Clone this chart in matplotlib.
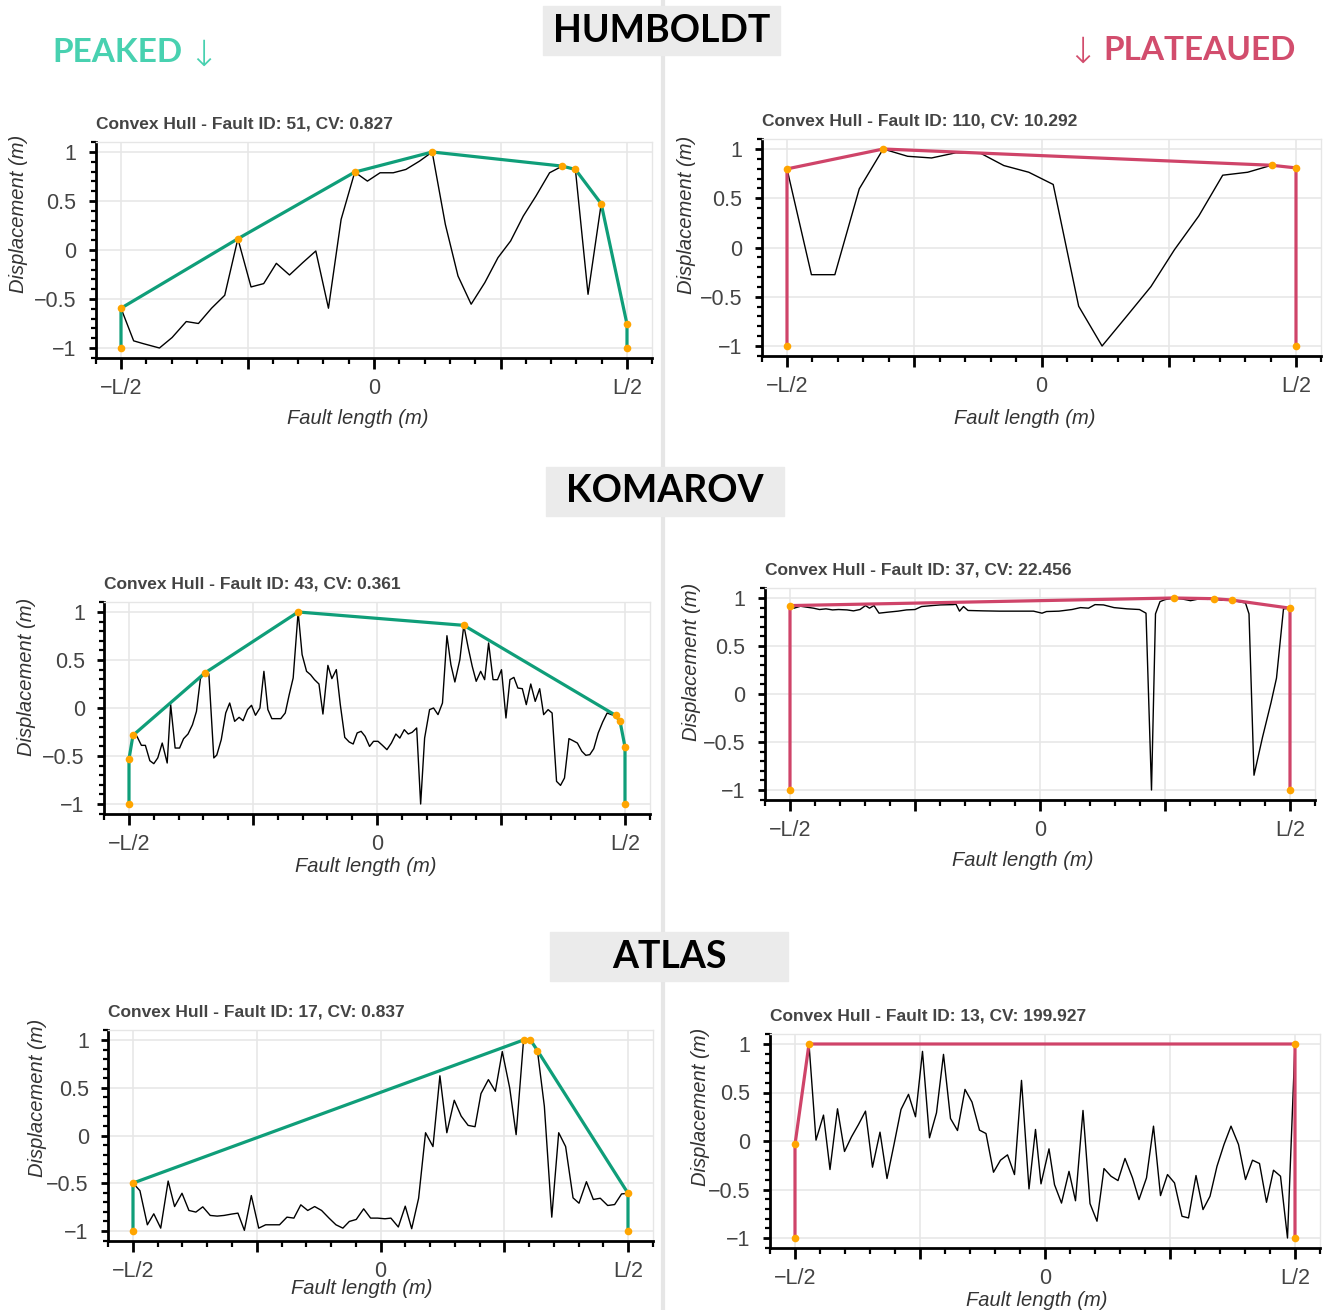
import numpy as np
import matplotlib
matplotlib.use("Agg")
import matplotlib.pyplot as plt
from matplotlib.lines import Line2D
from matplotlib.patches import Rectangle
from matplotlib.ticker import MultipleLocator

plt.rcParams['font.family'] = ['Liberation Sans', 'DejaVu Sans']

# ------------------- data (x normalised to fault length, y to max displacement) -------------------
humboldt_peaked_x = [-0.5, -0.475, -0.457, -0.424, -0.399, -0.371, -0.347, -0.321, -0.295, -0.269,
                     -0.243, -0.218, -0.193, -0.167, -0.141, -0.115, -0.09, -0.065, -0.038, -0.013,
                     0.012, 0.038, 0.063, 0.09, 0.115, 0.141, 0.166, 0.192, 0.219, 0.245,
                     0.27, 0.295, 0.32, 0.347, 0.372, 0.398, 0.423, 0.449, 0.5]
humboldt_peaked_y = [-0.594, -0.927, -0.954, -1.0, -0.893, -0.73, -0.75, -0.594, -0.462, 0.115,
                     -0.377, -0.343, -0.136, -0.255, -0.13, -0.01, -0.594, 0.312, 0.795, 0.703,
                     0.788, 0.788, 0.822, 0.907, 1.0, 0.261, -0.265, -0.553, -0.333, -0.078,
                     0.092, 0.346, 0.55, 0.788, 0.856, 0.822, -0.452, 0.472, -0.757]

humboldt_plateau_x = [-0.5, -0.452, -0.406, -0.358, -0.311, -0.263, -0.216, -0.168, -0.119, -0.074,
                      -0.025, 0.023, 0.073, 0.119, 0.167, 0.215, 0.261, 0.309, 0.356, 0.405,
                      0.452, 0.5]
humboldt_plateau_y = [0.798, -0.276, -0.276, 0.596, 1.0, 0.926, 0.909, 0.962, 0.955, 0.832,
                      0.764, 0.64, -0.596, -1.0, -0.70, -0.397, -0.024, 0.32, 0.734, 0.764,
                      0.835, 0.808]

komarov_peaked_x = [-0.5, -0.492, -0.484, -0.475, -0.467, -0.458, -0.45, -0.442, -0.433, -0.423,
                    -0.416, -0.407, -0.398, -0.39, -0.381, -0.372, -0.364, -0.356, -0.347, -0.339,
                    -0.329, -0.323, -0.314, -0.305, -0.297, -0.287, -0.278, -0.27, -0.261, -0.253,
                    -0.245, -0.236, -0.228, -0.22, -0.212, -0.203, -0.194, -0.185, -0.177, -0.169,
                    -0.159, -0.151, -0.142, -0.134, -0.126, -0.117, -0.109, -0.099, -0.091, -0.082,
                    -0.074, -0.065, -0.056, -0.048, -0.04, -0.032, -0.024, -0.015, -0.007, 0.002,
                    0.011, 0.02, 0.029, 0.038, 0.046, 0.055, 0.063, 0.071, 0.08, 0.088,
                    0.096, 0.106, 0.114, 0.123, 0.132, 0.141, 0.149, 0.157, 0.167, 0.175,
                    0.184, 0.192, 0.2, 0.209, 0.217, 0.225, 0.234, 0.243, 0.251, 0.26,
                    0.268, 0.276, 0.284, 0.293, 0.301, 0.31, 0.319, 0.328, 0.336, 0.345,
                    0.353, 0.362, 0.37, 0.378, 0.387, 0.395, 0.404, 0.413, 0.421, 0.429,
                    0.437, 0.446, 0.455, 0.464, 0.473, 0.481, 0.49, 0.5]
komarov_peaked_y = [-0.53, -0.285, -0.295, -0.389, -0.389, -0.549, -0.58, -0.52, -0.365, -0.573,
                    0.035, -0.417, -0.417, -0.32, -0.271, -0.174, -0.035, 0.306, 0.365, 0.355,
                    -0.52, -0.49, -0.33, -0.052, 0.052, -0.139, -0.097, -0.132, -0.017, 0.028,
                    -0.076, 0.0, 0.382, -0.017, -0.111, -0.111, -0.111, -0.052, 0.139, 0.313,
                    1.0, 0.556, 0.382, 0.347, 0.295, 0.25, -0.063, 0.444, 0.306, 0.40,
                    0.035, -0.306, -0.354, -0.375, -0.26, -0.243, -0.295, -0.40, -0.347, -0.347,
                    -0.389, -0.434, -0.365, -0.271, -0.313, -0.226, -0.271, -0.253, -0.208, -1.0,
                    -0.313, -0.017, 0.0, -0.069, 0.052, 0.753, 0.451, 0.271, 0.503, 0.861,
                    0.625, 0.434, 0.278, 0.382, 0.295, 0.677, 0.295, 0.295, 0.399, -0.104,
                    0.295, 0.319, 0.208, 0.201, 0.035, 0.25, 0.069, 0.201, -0.069, -0.017,
                    -0.052, -0.764, -0.806, -0.729, -0.319, -0.34, -0.365, -0.451, -0.493, -0.486,
                    -0.424, -0.26, -0.146, -0.052, -0.07, -0.076, -0.139, -0.406]

komarov_plateau_x = [-0.5, -0.492, -0.479, -0.466, -0.453, -0.441, -0.428, -0.415, -0.403, -0.386,
                     -0.373, -0.36, -0.349, -0.341, -0.332, -0.322, -0.305, -0.284, -0.267, -0.25,
                     -0.237, -0.216, -0.199, -0.174, -0.168, -0.161, -0.153, -0.144, -0.114, -0.081,
                     -0.047, -0.013, 0.004, 0.013, 0.038, 0.064, 0.081, 0.097, 0.11, 0.127,
                     0.148, 0.174, 0.199, 0.212, 0.223, 0.231, 0.24, 0.25, 0.267, 0.284,
                     0.301, 0.318, 0.335, 0.347, 0.364, 0.383, 0.398, 0.411, 0.418, 0.428,
                     0.445, 0.462, 0.473, 0.487, 0.5]
komarov_plateau_y = [0.921, 0.894, 0.914, 0.904, 0.894, 0.88, 0.887, 0.876, 0.88, 0.876,
                     0.866, 0.88, 0.921, 0.894, 0.921, 0.842, 0.852, 0.863, 0.876, 0.88,
                     0.911, 0.921, 0.928, 0.931, 0.935, 0.863, 0.911, 0.87, 0.866, 0.863,
                     0.863, 0.863, 0.842, 0.859, 0.863, 0.88, 0.90, 0.894, 0.931, 0.928,
                     0.90, 0.887, 0.88, 0.842, -1.0, 0.835, 0.962, 0.983, 1.0, 0.99,
                     0.972, 0.99, 0.986, 0.993, 0.976, 0.979, 0.962, 0.948, 0.835, -0.846,
                     -0.451, -0.091, 0.166, 0.887, 0.894]

atlas_peaked_x = [-0.5, -0.486, -0.471, -0.458, -0.444, -0.429, -0.416, -0.401, -0.387, -0.373,
                  -0.359, -0.344, -0.33, -0.316, -0.301, -0.288, -0.275, -0.261, -0.246, -0.232,
                  -0.218, -0.204, -0.189, -0.175, -0.161, -0.147, -0.133, -0.119, -0.104, -0.09,
                  -0.076, -0.063, -0.049, -0.034, -0.02, -0.006, 0.009, 0.021, 0.036, 0.05,
                  0.063, 0.077, 0.091, 0.106, 0.12, 0.134, 0.149, 0.163, 0.177, 0.191,
                  0.203, 0.218, 0.232, 0.246, 0.261, 0.274, 0.289, 0.303, 0.317, 0.331,
                  0.346, 0.36, 0.374, 0.389, 0.401, 0.416, 0.43, 0.444, 0.459, 0.473,
                  0.487, 0.5]
atlas_peaked_y = [-0.498, -0.578, -0.935, -0.82, -0.97, -0.477, -0.744, -0.605, -0.785, -0.802,
                  -0.747, -0.837, -0.844, -0.837, -0.823, -0.813, -0.993, -0.629, -0.97, -0.935,
                  -0.935, -0.935, -0.855, -0.865, -0.726, -0.785, -0.744, -0.785, -0.865, -0.935,
                  -0.97, -0.9, -0.879, -0.768, -0.865, -0.865, -0.872, -0.865, -0.958, -0.74,
                  -0.976, -0.657, 0.029, -0.116, 0.625, 0.029, 0.369, 0.203, 0.106, 0.092,
                  0.439, 0.585, 0.463, 0.879, 0.498, 0.009, 1.0, 1.0, 0.89, 0.307,
                  -0.855, 0.029, -0.116, -0.653, -0.709, -0.484, -0.67, -0.657, -0.733, -0.723,
                  -0.612, -0.605]

atlas_plateau_x = [-0.5, -0.472, -0.458, -0.443, -0.43, -0.415, -0.401, -0.387, -0.373, -0.359,
                   -0.345, -0.33, -0.316, -0.302, -0.288, -0.273, -0.259, -0.245, -0.231, -0.217,
                   -0.203, -0.189, -0.175, -0.16, -0.146, -0.131, -0.118, -0.103, -0.089, -0.075,
                   -0.061, -0.047, -0.032, -0.019, -0.008, 0.008, 0.019, 0.033, 0.048, 0.061,
                   0.076, 0.09, 0.104, 0.118, 0.132, 0.146, 0.16, 0.175, 0.188, 0.203,
                   0.217, 0.231, 0.245, 0.259, 0.274, 0.287, 0.302, 0.316, 0.33, 0.344,
                   0.358, 0.372, 0.387, 0.401, 0.415, 0.429, 0.443, 0.457, 0.471, 0.485,
                   0.5]
atlas_plateau_y = [-0.036, 1.0, 0.009, 0.267, -0.294, 0.332, -0.108, 0.043, 0.17, 0.308,
                   -0.27, 0.091, -0.387, -0.036, 0.325, 0.481, 0.25, 0.924, 0.033, 0.291,
                   0.893, 0.232, 0.108, 0.532, 0.401, 0.112, 0.077, -0.322, -0.198, -0.143,
                   -0.346, 0.625, -0.494, 0.119, -0.442, -0.081, -0.45, -0.64, -0.313, -0.616,
                   0.315, -0.645, -0.827, -0.284, -0.363, -0.408, -0.18, -0.38, -0.604, -0.38,
                   0.153, -0.563, -0.346, -0.432, -0.776, -0.793, -0.356, -0.707, -0.57, -0.26,
                   -0.036, 0.153, -0.036, -0.397, -0.198, -0.232, -0.632, -0.301, -0.363, -1.0,
                   1.0]

titles = ['Convex Hull - Fault ID: 51, CV: 0.827', 'Convex Hull - Fault ID: 110, CV: 10.292',
          'Convex Hull - Fault ID: 43, CV: 0.361', 'Convex Hull - Fault ID: 37, CV: 22.456',
          'Convex Hull - Fault ID: 17, CV: 0.837', 'Convex Hull - Fault ID: 13, CV: 199.927']
regions = ['HUMBOLDT', 'KOMAROV', 'ATLAS']
x_ticks = [-0.5, -0.25, 0, 0.25, 0.5]
x_ticklabels = ['\u2212L/2', '', '0', '', 'L/2']
y_ticks = [-1, -0.5, 0, 0.5, 1]
y_ticklabels = ['\u22121', '\u22120.5', '0', '0.5', '1']

# ------------------- style / layout -------------------
W, H = 1326, 1310
GREEN = '#0f9e79'
PINK = '#cf4469'
DOT = '#ffa500'
GRID = '#e6e6e6'
TXT = '#444444'
HEAD_FONT = ['Lato', 'DejaVu Sans']

# pixel spots of x=-L/2, x=L/2, y=1, y=-1, then xlabel centre and ylabel centre
panels = [
    (humboldt_peaked_x, humboldt_peaked_y, GREEN, (121, 627, 152, 348), (358, 418), (18, 214)),
    (humboldt_plateau_x, humboldt_plateau_y, PINK, (787, 1296, 149, 346), (1025, 418), (687, 215)),
    (komarov_peaked_x, komarov_peaked_y, GREEN, (129, 625, 612, 804), (366, 866), (27, 677)),
    (komarov_plateau_x, komarov_plateau_y, PINK, (790, 1290, 598, 790), (1023, 860), (692, 662)),
    (atlas_peaked_x, atlas_peaked_y, GREEN, (133, 628, 1040, 1231), (362, 1289), (38, 1098)),
    (atlas_plateau_x, atlas_plateau_y, PINK, (795, 1295, 1044, 1238), (1037, 1300), (700, 1107)),
]
header_boxes = [(543, 6, 237, 49), (546, 467, 238, 49), (550, 932, 238, 49)]


def upper_hull(xs, ys):
    """upper convex hull of the profile closed by the two zero-displacement ends"""
    pts = sorted(set(zip(xs, ys)) | {(-0.5, -1.0), (0.5, -1.0)})
    hull = []
    for p in reversed(pts):
        while len(hull) >= 2:
            (x1, y1), (x2, y2) = hull[-2], hull[-1]
            if (x2 - x1) * (p[1] - y1) - (y2 - y1) * (p[0] - x1) <= 0:
                hull.pop()
            else:
                break
        hull.append(p)
    hull = hull[::-1] + [(0.5, -1.0)]
    return [p[0] for p in hull], [p[1] for p in hull]


fig = plt.figure(figsize=(W / 100, H / 100), dpi=100)

# centre separator
fig.add_artist(Line2D([663 / W, 663 / W], [0, 1], color='#e6e6e6', lw=3, zorder=0.5))

for (xs, ys, col, (xl, xr, yt, yb), xlab, ylab), title in zip(panels, titles):
    ux = xr - xl
    uy = (yb - yt) / 2
    left, top = xl - 0.05 * ux, yt - 0.1 * uy
    w, h = 1.1 * ux, 2.2 * uy
    ax = fig.add_axes([left / W, 1 - (top + h) / H, w / W, h / H])

    ax.plot(xs, ys, color='black', lw=1.0, zorder=3)
    hx, hy = upper_hull(xs, ys)
    ax.plot(hx, hy, color=col, lw=2.3, zorder=4)
    ax.plot(hx, hy, 'o', color=DOT, ms=5.5, mec='none', zorder=5)

    ax.set_xlim(-0.55, 0.55)
    ax.set_ylim(-1.1, 1.1)
    ax.set_xticks(x_ticks)
    ax.set_xticklabels(x_ticklabels)
    ax.set_yticks(y_ticks)
    ax.set_yticklabels(y_ticklabels)
    ax.xaxis.set_minor_locator(MultipleLocator(0.05))
    ax.yaxis.set_minor_locator(MultipleLocator(0.1))
    ax.grid(True, which='major', color=GRID, lw=1.1)
    ax.set_axisbelow(True)

    ax.tick_params(axis='x', which='major', direction='out', length=8, width=2, pad=6.5,
                   labelsize=15.5, labelcolor=TXT)
    ax.tick_params(axis='x', which='minor', direction='out', length=4, width=1.6)
    ax.tick_params(axis='y', which='major', direction='out', length=5, width=2, pad=9,
                   labelsize=15.5, labelcolor=TXT)
    ax.tick_params(axis='y', which='minor', direction='out', length=3.5, width=1.6)
    for s in ['left', 'bottom']:
        ax.spines[s].set_linewidth(2)
    for s in ['top', 'right']:
        ax.spines[s].set_color(GRID)
        ax.spines[s].set_linewidth(1)

    ax.set_xlabel('Fault length (m)', fontsize=14.5, style='italic', color='#333333')
    ax.set_ylabel('Displacement (m)', fontsize=14.5, style='italic', color='#333333')
    ax.xaxis.label.set_va('center')
    ax.yaxis.label.set_va('center')
    ax.xaxis.set_label_coords((xlab[0] - left) / w, (top + h - xlab[1]) / h)
    ax.yaxis.set_label_coords((ylab[0] - left) / w, (top + h - ylab[1]) / h)

    ax.text(0, 1 + 18 / h, title, transform=ax.transAxes, ha='left', va='center',
            fontsize=12.5, fontweight='bold', color=TXT)

# region headers
for (bx, by, bw, bh), name in zip(header_boxes, regions):
    fig.add_artist(Rectangle((bx / W, 1 - (by + bh) / H), bw / W, bh / H,
                             transform=fig.transFigure, color='#ebebeb', zorder=1))
    fig.text((bx + bw / 2) / W, 1 - (by + bh / 2) / H, name, ha='center', va='center',
             fontsize=27, fontweight='bold', family=HEAD_FONT, zorder=3)

# column headers, the arrows drawn thin
fig.text(52 / W, 1 - 52 / H, 'PEAKED', ha='left', va='center', fontsize=24,
         fontweight='bold', color='#48d1b0', family=HEAD_FONT)
fig.text(203 / W, 1 - 56 / H, '\u2193', ha='center', va='center', fontsize=26,
         fontweight='light', color='#48d1b0', family='DejaVu Sans')
fig.text(1296 / W, 1 - 50 / H, 'PLATEAUED', ha='right', va='center', fontsize=24,
         fontweight='bold', color='#d24d6d', family=HEAD_FONT)
fig.text(1082 / W, 1 - 53 / H, '\u2193', ha='center', va='center', fontsize=26,
         fontweight='light', color='#d24d6d', family='DejaVu Sans')

fig.savefig('out.png', dpi=100)
